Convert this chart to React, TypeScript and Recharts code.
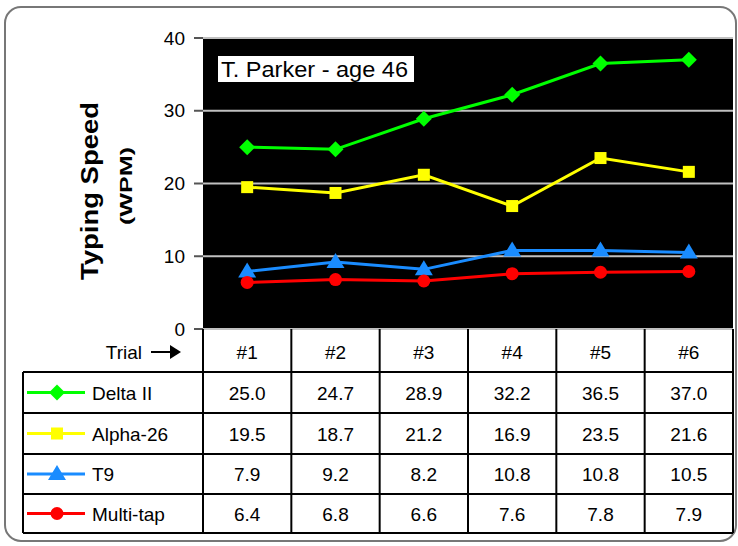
import { LineChart, Line, XAxis, YAxis, CartesianGrid } from "recharts";

const trials = ["#1", "#2", "#3", "#4", "#5", "#6"];
const deltaII = [25.0, 24.7, 28.9, 32.2, 36.5, 37.0];
const alpha26 = [19.5, 18.7, 21.2, 16.9, 23.5, 21.6];
const t9 = [7.9, 9.2, 8.2, 10.8, 10.8, 10.5];
const multiTap = [6.4, 6.8, 6.6, 7.6, 7.8, 7.9];
const yTicks = [0, 10, 20, 30, 40];

const data = trials.map((t, i) => ({
  trial: t,
  delta: deltaII[i],
  alpha: alpha26[i],
  t9: t9[i],
  multi: multiTap[i],
}));

const W = 738;
const H = 546;
const PLOT_L = 203;
const PLOT_R = 733;
const PLOT_T = 38;
const PLOT_B = 329;
const COL_W = (PLOT_R - PLOT_L) / trials.length;
const FONT = "Arial, 'Liberation Sans', sans-serif";

const GREEN = "#00ff00";
const YELLOW = "#ffff00";
const BLUE = "#1a8cff";
const RED = "#ff0000";

const Diamond = ({ cx, cy, fill }: any) => (
  <path d={`M${cx},${cy - 8} L${cx + 8},${cy} L${cx},${cy + 8} L${cx - 8},${cy} Z`} fill={fill} />
);
const Square = ({ cx, cy, fill }: any) => <rect x={cx - 6} y={cy - 6} width={12} height={12} fill={fill} />;
const Triangle = ({ cx, cy, fill }: any) => (
  <path d={`M${cx},${cy - 9} L${cx + 9},${cy + 6} L${cx - 9},${cy + 6} Z`} fill={fill} />
);
const Circle = ({ cx, cy, fill }: any) => <circle cx={cx} cy={cy} r={6.5} fill={fill} />;

const series = [
  { key: "delta", name: "Delta II", color: GREEN, Shape: Diamond, values: deltaII },
  { key: "alpha", name: "Alpha-26", color: YELLOW, Shape: Square, values: alpha26 },
  { key: "t9", name: "T9", color: BLUE, Shape: Triangle, values: t9 },
  { key: "multi", name: "Multi-tap", color: RED, Shape: Circle, values: multiTap },
];

const ROW_Y = [372, 413, 454, 494, 533];

function Overlay() {
  return (
    <svg width={W} height={H} style={{ position: "absolute", left: 0, top: 0, pointerEvents: "none" }}>
      {/* frame */}
      <rect x={5} y={7} width={731} height={534} rx={16} fill="none" stroke="#777" strokeWidth={2} />

      {/* axis title */}
      <text
        transform="translate(98,191) rotate(-90)"
        textAnchor="middle"
        fontFamily={FONT}
        fontWeight={700}
        fontSize={23}
        textLength={178}
        lengthAdjust="spacingAndGlyphs"
        fill="#000"
      >
        Typing Speed
      </text>
      <text
        transform="translate(132,186) rotate(-90)"
        textAnchor="middle"
        fontFamily={FONT}
        fontWeight={700}
        fontSize={16}
        textLength={78}
        lengthAdjust="spacingAndGlyphs"
        fill="#000"
      >
        (WPM)
      </text>

      {/* title box */}
      <rect x={218} y={56} width={196} height={26} fill="#fff" />
      <text x={221} y={77} fontFamily={FONT} fontSize={22} textLength={187} lengthAdjust="spacingAndGlyphs" fill="#000">
        T. Parker - age 46
      </text>

      {/* header row */}
      <text x={142} y={359} textAnchor="end" fontFamily={FONT} fontSize={19} fill="#000">
        Trial
      </text>
      <line x1={151} y1={352} x2={172} y2={352} stroke="#000" strokeWidth={2} />
      <path d="M170,345 L181,352 L170,359 Z" fill="#000" />

      {trials.map((t, i) => (
        <text
          key={t}
          x={PLOT_L + COL_W * (i + 0.5)}
          y={359}
          textAnchor="middle"
          fontFamily={FONT}
          fontSize={19}
          fill="#000"
        >
          {t}
        </text>
      ))}

      {/* grid lines of table */}
      {ROW_Y.map((y) => (
        <line key={y} x1={23} y1={y} x2={PLOT_R} y2={y} stroke="#000" strokeWidth={2} />
      ))}
      <line x1={23} y1={372} x2={23} y2={533} stroke="#000" strokeWidth={2} />
      {trials.map((_, i) => (
        <line
          key={i}
          x1={PLOT_L + COL_W * i}
          y1={PLOT_B}
          x2={PLOT_L + COL_W * i}
          y2={533}
          stroke="#000"
          strokeWidth={2}
        />
      ))}
      <line x1={PLOT_R} y1={PLOT_B} x2={PLOT_R} y2={533} stroke="#000" strokeWidth={2} />

      {series.map((s, r) => {
        const cy = (ROW_Y[r] + ROW_Y[r + 1]) / 2;
        const Shape = s.Shape;
        return (
          <g key={s.key}>
            <line x1={27} y1={cy} x2={85} y2={cy} stroke={s.color} strokeWidth={3} />
            <Shape cx={57} cy={cy} fill={s.color} />
            <text x={92} y={cy + 7} fontFamily={FONT} fontSize={19} fill="#000">
              {s.name}
            </text>
            {s.values.map((v, i) => (
              <text
                key={i}
                x={PLOT_L + COL_W * (i + 0.5)}
                y={cy + 7}
                textAnchor="middle"
                fontFamily={FONT}
                fontSize={19}
                fill="#000"
              >
                {v.toFixed(1)}
              </text>
            ))}
          </g>
        );
      })}
    </svg>
  );
}

export default function App() {
  return (
    <div style={{ position: "absolute", left: 0, top: 0, width: W, height: H, background: "#fff" }}>
      <LineChart
        width={W}
        height={H}
        data={data}
        margin={{ top: PLOT_T, right: W - PLOT_R, bottom: H - PLOT_B, left: PLOT_L - 60 }}
      >
        <CartesianGrid vertical={false} stroke="#c0c0c0" strokeWidth={2} fill="#000" fillOpacity={1} />
        <XAxis dataKey="trial" hide padding={{ left: COL_W / 2, right: COL_W / 2 }} />
        <YAxis
          width={60}
          domain={[0, 40]}
          ticks={yTicks}
          axisLine={false}
          tickSize={9}
          tickMargin={9}
          tickLine={{ stroke: "#555", strokeWidth: 2 }}
          tick={{ fill: "#000", fontSize: 19, fontFamily: FONT }}
        />
        {series.map((s) => (
          <Line
            key={s.key}
            dataKey={s.key}
            stroke={s.color}
            strokeWidth={3}
            isAnimationActive={false}
            dot={(p: any) => <s.Shape key={`${s.key}-${p.index}`} cx={p.cx} cy={p.cy} fill={s.color} />}
            activeDot={false}
          />
        ))}
      </LineChart>
      <Overlay />
    </div>
  );
}
